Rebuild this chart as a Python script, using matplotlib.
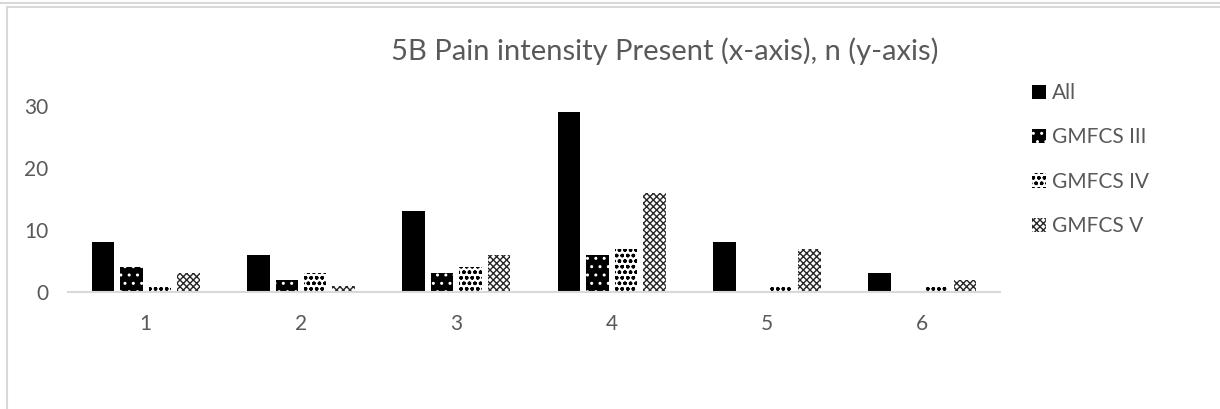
import matplotlib.pyplot as plt
from matplotlib.patches import Patch
from matplotlib.lines import Line2D
import numpy as np

plt.rcParams['font.family'] = ['Lato', 'DejaVu Sans']
plt.rcParams['hatch.linewidth'] = 1.0

categories = ['1', '2', '3', '4', '5', '6']
series_names = ['All', 'GMFCS III', 'GMFCS IV', 'GMFCS V']
all_n = [8, 6, 13, 29, 8, 3]
gmfcs3_n = [4, 2, 3, 6, 0, 0]
gmfcs4_n = [1, 3, 4, 7, 1, 1]
gmfcs5_n = [3, 1, 6, 16, 7, 2]

# face, hatch colour, hatch pattern per series
styles = [
    ('black', 'black', ''),
    ('black', 'white', '..'),
    ('white', 'black', 'ooo'),
    ('white', '#262626', 'xxxxx'),
]
txt = '#595959'
W, H = 1220, 409

fig = plt.figure(figsize=(W / 100, H / 100), dpi=100)
ax = fig.add_axes([68 / W, (H - 292) / H, 932 / W, 217 / H])

x = np.arange(1, len(categories) + 1)
pitch = 0.183
width = 0.145
for i, vals in enumerate([all_n, gmfcs3_n, gmfcs4_n, gmfcs5_n]):
    fc, hc, hatch = styles[i]
    ax.bar(x + (i - 1.5) * pitch, vals, width, color=fc, edgecolor=hc,
           hatch=hatch, linewidth=0)

ax.set_xlim(0.5, 6.5)
ax.set_ylim(0, 35)
ax.set_yticks([0, 10, 20, 30])
ax.set_xticks(x)
ax.set_xticklabels(categories)
for s in ['top', 'right', 'left']:
    ax.spines[s].set_visible(False)
ax.spines['bottom'].set_color('#d9d9d9')
ax.spines['bottom'].set_linewidth(1.5)
ax.tick_params(length=0, labelsize=15, labelcolor=txt)
ax.tick_params(axis='x', pad=16)
ax.tick_params(axis='y', pad=14)

fig.text(665 / W, 1 - 51 / H, '5B Pain intensity Present (x-axis), n (y-axis)',
         ha='center', va='center', fontsize=21, color=txt)

handles = [Patch(facecolor=fc, edgecolor=hc, hatch=hatch, linewidth=0)
           for fc, hc, hatch in styles]
leg = fig.legend(handles, series_names, loc='upper left',
                 bbox_to_anchor=(1032 / W, 1 - 83 / H), frameon=False,
                 fontsize=15, labelcolor=txt, handlelength=0.67,
                 handleheight=0.67, handletextpad=0.3, labelspacing=1.17,
                 borderpad=0, borderaxespad=0)

# chart frame lines
fig.add_artist(Line2D([0, 1], [1 - 2.5 / H, 1 - 2.5 / H], color='#d9d9d9', lw=1.5))
fig.add_artist(Line2D([7 / W, 1], [1 - 7 / H, 1 - 7 / H], color='#d9d9d9', lw=1.5))
fig.add_artist(Line2D([7 / W, 7 / W], [0, 1 - 7 / H], color='#d9d9d9', lw=1.5))

fig.savefig('out.png', dpi=100)
